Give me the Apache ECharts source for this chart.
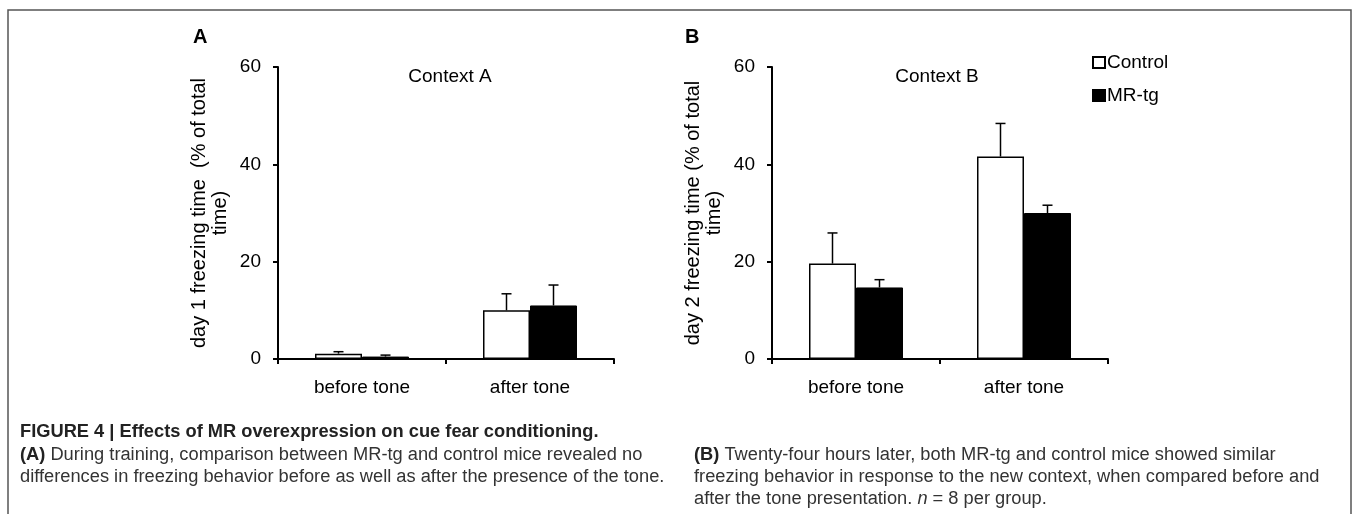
<!DOCTYPE html>
<html><head><meta charset="utf-8">
<script src="https://cdn.jsdelivr.net/npm/echarts@6/dist/echarts.min.js"></script>
<style>html,body{margin:0;padding:0;background:#fff}#c{width:1356px;height:514px}</style>
</head><body><div id="c"></div>
<script>
const categories = ['before tone', 'after tone'];
const seriesNames = ['Control', 'MR-tg'];
const yTicks = [0, 20, 40, 60];
// Panel A (day 1, Context A)
const aControl = [1.1, 10.0];
const aControlErr = [0.4, 3.4];
const aMRtg = [0.5, 11.0];
const aMRtgErr = [0.3, 4.2];
// Panel B (day 2, Context B)
const bControl = [19.6, 41.6];
const bControlErr = [6.3, 6.8];
const bMRtg = [14.7, 30.0];
const bMRtgErr = [1.6, 1.6];

const captionHead = 'FIGURE 4 | Effects of MR overexpression on cue fear conditioning.';
const captionA = ['(A)', ' During training, comparison between MR-tg and control mice revealed no',
  'differences in freezing behavior before as well as after the presence of the tone.'];
const captionB = ['(B)', ' Twenty-four hours later, both MR-tg and control mice showed similar',
  'freezing behavior in response to the new context, when compared before and',
  'after the tone presentation. ', 'n', ' = 8 per group.'];

const FONT = 'Liberation Sans, Arial, sans-serif';
const CAPF = 'Liberation Sans';
const CAPSIZE = 18;
const BW = 47;

// horizontal condensing of the caption font (reference uses a condensed face)
const ctx = document.createElement('canvas').getContext('2d');
ctx.font = CAPSIZE + 'px "' + CAPF + '"';
const sA = 650 / ctx.measureText(captionA[2]).width;
const sB = 620 / ctx.measureText(captionB[2]).width;
const SX = (sA + sB) / 2;

function errSeries(name, vals, errs, grid, shift) {
  return {
    type: 'custom', name: name + ' err', xAxisIndex: grid, yAxisIndex: grid, z: 5,
    data: vals.map((v, i) => [i, v, v + errs[i]]),
    renderItem: function (params, api) {
      const base = api.coord([api.value(0), api.value(1)]);
      const top = api.coord([api.value(0), api.value(2)]);
      const x = base[0] + shift;
      return { type: 'group', children: [
        { type: 'line', shape: { x1: x, y1: base[1], x2: x, y2: top[1] }, style: { stroke: '#000', lineWidth: 1.5 } },
        { type: 'line', shape: { x1: x - 5, y1: top[1], x2: x + 5, y2: top[1] }, style: { stroke: '#000', lineWidth: 1.5 } }
      ]};
    },
    tooltip: { show: false }
  };
}
function barSeries(name, vals, grid) {
  const white = name === 'Control';
  return {
    type: 'bar', name: name, xAxisIndex: grid, yAxisIndex: grid, data: vals,
    barWidth: BW, barGap: '0%',
    itemStyle: white ? { color: '#fff', borderColor: '#000', borderWidth: 1.5 } : { color: '#000', borderColor: '#000', borderWidth: 1 }
  };
}
function xAxis(grid) {
  return {
    type: 'category', gridIndex: grid, data: categories,
    axisLine: { lineStyle: { color: '#000', width: 2 } },
    axisTick: { show: true, length: 5, lineStyle: { color: '#000', width: 2 } },
    axisLabel: { color: '#000', fontFamily: FONT, fontSize: 19, margin: 19 }
  };
}
function yAxis(grid, name) {
  return {
    type: 'value', gridIndex: grid, min: 0, max: 60, interval: 20,
    name: name, nameLocation: 'middle', nameRotate: 90, nameGap: 47,
    nameTextStyle: { color: '#000', fontFamily: FONT, fontSize: 20, lineHeight: 21 },
    splitLine: { show: false },
    axisLine: { show: true, lineStyle: { color: '#000', width: 2 } },
    axisTick: { show: true, length: 5, lineStyle: { color: '#000', width: 2 } },
    axisLabel: { color: '#000', fontFamily: FONT, fontSize: 19, margin: 17, formatter: v => yTicks.includes(v) ? String(v) : '' }
  };
}
function cap(x, y, text, rich) {
  return { type: 'text', x: x, y: y, scaleX: SX, silent: true,
    style: { x: 0, y: 0, text: text, fill: '#333', fontFamily: CAPF, fontSize: CAPSIZE, verticalAlign: 'middle', rich: rich || {} } };
}
const richB = { b: { fontWeight: 'bold', fontFamily: CAPF, fontSize: CAPSIZE, fill: '#222' }, i: { fontStyle: 'italic', fontFamily: CAPF, fontSize: CAPSIZE, fill: '#333' } };

const chart = echarts.init(document.getElementById('c'));
chart.setOption({
  animation: false,
  grid: [
    { left: 278, top: 67, width: 336, height: 292 },
    { left: 772, top: 67, width: 336, height: 292 }
  ],
  xAxis: [xAxis(0), xAxis(1)],
  yAxis: [yAxis(0, 'day 1 freezing time  (% of total\ntime)'), yAxis(1, 'day 2 freezing time (% of total\ntime)')],
  legend: {
    data: seriesNames, orient: 'vertical', left: 1087, top: 47, itemGap: 12,
    itemWidth: 12, itemHeight: 11, icon: 'rect',
    textStyle: { color: '#000', fontFamily: FONT, fontSize: 19, lineHeight: 21, padding: [0, 0, 0, -3] }
  },
  series: [
    barSeries('Control', aControl, 0), barSeries('MR-tg', aMRtg, 0),
    errSeries('Control', aControl, aControlErr, 0, -BW / 2), errSeries('MR-tg', aMRtg, aMRtgErr, 0, BW / 2),
    barSeries('Control', bControl, 1), barSeries('MR-tg', bMRtg, 1),
    errSeries('Control', bControl, bControlErr, 1, -BW / 2), errSeries('MR-tg', bMRtg, bMRtgErr, 1, BW / 2)
  ],
  graphic: [
    { type: 'rect', shape: { x: 8, y: 10, width: 1343, height: 520 }, style: { fill: 'none', stroke: '#555', lineWidth: 1.5 }, silent: true },
    { type: 'text', x: 193, y: 37, style: { text: 'A', fill: '#000', fontFamily: FONT, fontSize: 20, fontWeight: 'bold', verticalAlign: 'middle' } },
    { type: 'text', x: 685, y: 37, style: { text: 'B', fill: '#000', fontFamily: FONT, fontSize: 20, fontWeight: 'bold', verticalAlign: 'middle' } },
    { type: 'text', x: 450, y: 77, style: { text: 'Context A', fill: '#000', fontFamily: FONT, fontSize: 19, align: 'center', verticalAlign: 'middle' } },
    { type: 'text', x: 937, y: 77, style: { text: 'Context B', fill: '#000', fontFamily: FONT, fontSize: 19, align: 'center', verticalAlign: 'middle' } },
    cap(20, 432, '{b|' + captionHead + '}', richB),
    cap(20, 455, '{b|' + captionA[0] + '}' + captionA[1], richB),
    cap(20, 477, captionA[2]),
    cap(694, 455, '{b|' + captionB[0] + '}' + captionB[1], richB),
    cap(694, 477, captionB[2]),
    cap(694, 499, captionB[3] + '{i|' + captionB[4] + '}' + captionB[5], richB)
  ]
});
</script>
</body></html>
